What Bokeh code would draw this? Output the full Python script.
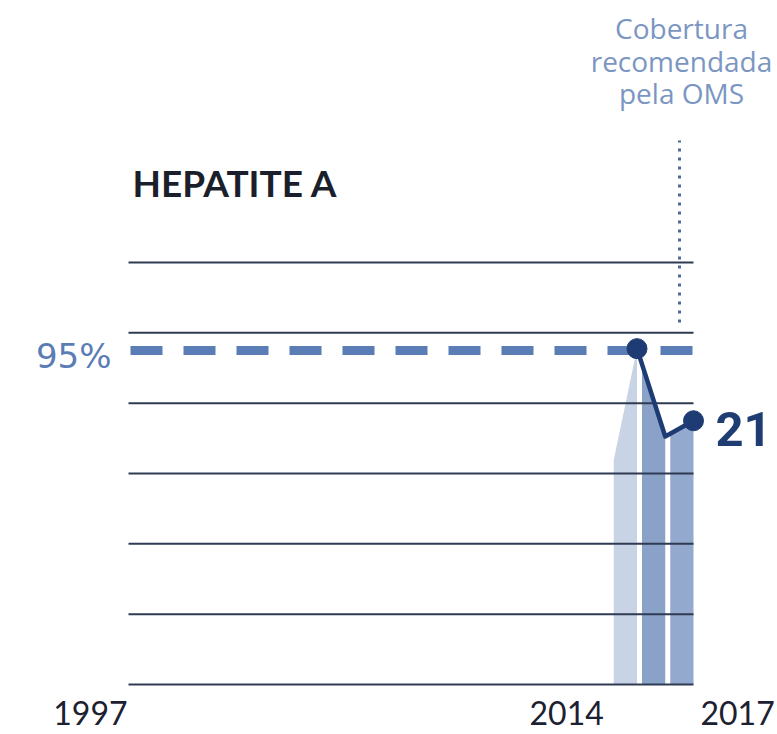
from bokeh.plotting import figure
from bokeh.models import Range1d, Label
from bokeh.core.properties import value
from bokeh.embed import file_html
from bokeh.resources import INLINE

# ---------------- data ----------------
years = [2014, 2015, 2016, 2017]
coverage = [57, 95.5, 70.5, 75]          # % coverage
line_years = [2015, 2016, 2017]          # years joined by the dark line
dot_years = [2015, 2017]                 # years marked with a dot
band_colors = ["#c8d3e5", "#8aa2c8", "#93a9ce"]
grid_values = [0, 20, 40, 60, 80, 100, 120]
target = 95
target_label = "95%"
x_start, x_end = 1997, 2017
tick_years = [1997, 2014, 2017]
tick_labels = ["1997", "2014", "2017"]
title_text = "HEPATITE A"
end_label = "21"
note_lines = ["Cobertura", "recomendada", "pela OMS"]

# ---------------- geometry ----------------
W, H = 777, 734
PX_YEAR = 28.25
PX_UNIT = 3.517
X0_PX = 128          # screen x of x_start
ZERO_PX = 684        # screen y (from top) of value 0


def yv(py):
    """value at screen y (from top)"""
    return (ZERO_PX - py) / PX_UNIT


def xv(px):
    return x_start + (px - X0_PX) / PX_YEAR


x_range = Range1d(xv(0), xv(W))
y_range = Range1d(yv(H), yv(0))

p = figure(width=W, height=H, x_range=x_range, y_range=y_range,
           output_backend="svg", toolbar_location=None, title=None,
           x_axis_type=None, y_axis_type=None, min_border=0)
p.grid.visible = False
p.outline_line_color = None
p.background_fill_color = "white"
p.border_fill_color = "white"

val = dict(zip(years, coverage))

# bands (area under the coverage line, one per year, separated by white gaps)
gap = 5 / PX_YEAR
xs, ys = [], []
for i in range(len(years) - 1):
    a, b = years[i], years[i + 1]
    va, vb = coverage[i], coverage[i + 1]
    xa = a + gap
    va2 = va + (vb - va) * (xa - a) / (b - a)
    xs.append([xa, b, b, xa])
    ys.append([va2, vb, 0, 0])
p.patches(xs, ys, fill_color=band_colors, line_color=None)

# grid lines
n = len(grid_values)
p.segment(x0=[x_start] * n, y0=grid_values, x1=[x_end] * n, y1=grid_values,
          line_color="#2f3b52", line_width=2)

# target dashed line
p.line([xv(130), x_end], [target, target], line_color="#5b7db6",
       line_width=9, line_dash="32 21")

# dotted reference line
p.line([xv(679), xv(679)], [yv(322), yv(140)], line_color="#4d6899",
       line_width=3, line_dash="3 6")

# coverage line + dots
p.line(line_years, [val[y] for y in line_years], line_color="#1e3c73",
       line_width=4.5, line_join="round")
p.scatter(dot_years, [val[y] for y in dot_years], size=20,
          fill_color="#1e3c73", line_color="#1e3c73")

# x tick labels
p.text(x=tick_years, y=[yv(712)] * len(tick_years), text=tick_labels,
       text_align=["right", "right", "left"], x_offset=[-1, -5, 7],
       text_baseline="middle", text_font=value("Lato"),
       text_font_size="32px", text_color="#1c2030")

# title
p.add_layout(Label(x=xv(132), y=yv(182), text=title_text,
                   text_font="Lato", text_font_style="bold", text_font_size="37px",
                   text_color="#1b1f2b", text_baseline="middle"))

# target label
p.add_layout(Label(x=xv(111), y=yv(355), text=target_label,
                   text_font="DejaVu Sans", text_font_size="34px", text_color="#5b7db5",
                   text_align="right", text_baseline="middle"))

# end label
p.add_layout(Label(x=xv(715), y=yv(428), text=end_label,
                   text_font="Roboto", text_font_style="bold",
                   text_font_size="49px", text_color="#1f3d73", text_baseline="middle"))

# note
for line, ymid in zip(note_lines, [27, 60, 92]):
    p.add_layout(Label(x=xv(681), y=yv(ymid), text=line,
                       text_font="Open Sans", text_font_size="28px", text_color="#7b96c2",
                       text_align="center", text_baseline="middle"))

open("out.html", "w").write(file_html(p, INLINE))
